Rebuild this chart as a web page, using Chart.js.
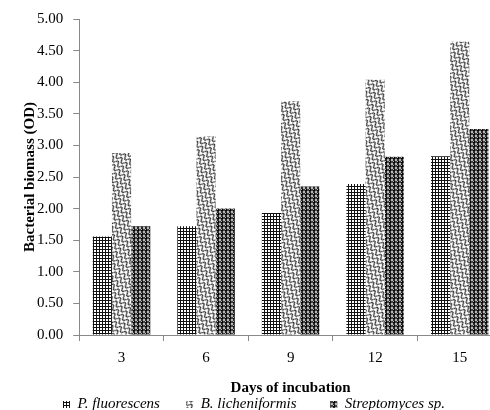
<!DOCTYPE html>
<html>
<head>
<meta charset="utf-8">
<script src="https://cdn.jsdelivr.net/npm/chart.js@4.4.1/dist/chart.umd.min.js"></script>
<style>
    html, body { margin: 0; padding: 0; background: #fff; overflow: hidden; }
    #wrap { width: 502px; height: 410px; }
</style>
</head>
<body>
<div id="wrap"><canvas id="chartCanvas" width="502" height="410"></canvas></div>
<script>
// Chart data
const days = ['3', '6', '9', '12', '15'];
const fluorescens = [1.56, 1.72, 1.93, 2.39, 2.83];
const licheniformis = [2.88, 3.14, 3.70, 4.04, 4.64];
const streptomyces = [1.72, 2.00, 2.35, 2.82, 3.26];
const seriesNames = ['P. fluorescens', 'B. licheniformis', 'Streptomyces sp.'];

// Build small pattern tiles
function makeTile(w, h, draw) {
    const c = document.createElement('canvas');
    c.width = w;
    c.height = h;
    const g = c.getContext('2d');
    g.fillStyle = '#fff';
    g.fillRect(0, 0, w, h);
    draw(g);
    return c;
}

const ctx = document.getElementById('chartCanvas').getContext('2d');

// grid hatch
const gridTile = makeTile(3, 3, g => {
    g.fillStyle = '#111';
    g.fillRect(0, 0, 3, 1);
    g.fillRect(0, 0, 1, 3);
});
const gridPattern = ctx.createPattern(gridTile, 'repeat');

// wavy hatch, rotated
const waveTile = makeTile(7, 5, g => {
    g.strokeStyle = '#222';
    g.lineWidth = 1.2;
    g.beginPath();
    g.moveTo(0, 2.5);
    g.bezierCurveTo(1.75, -0.8, 1.75, -0.8, 3.5, 2.5);
    g.bezierCurveTo(5.25, 5.8, 5.25, 5.8, 7, 2.5);
    g.stroke();
});
const wavePattern = ctx.createPattern(waveTile, 'repeat');
wavePattern.setTransform(new DOMMatrix().rotate(45));

// dotted hatch
const dotTile = makeTile(4, 4, g => {
    g.fillStyle = '#000';
    g.beginPath();
    g.arc(2, 2, 1.9, 0, Math.PI * 2);
    g.fill();
    g.fillStyle = '#bbb';
    g.fillRect(1, 1, 1, 1);
});
const dotPattern = ctx.createPattern(dotTile, 'repeat');

const serif = "'Liberation Serif', 'Times New Roman', serif";
const gap = n => '\u00a0'.repeat(n);

new Chart(ctx, {
    type: 'bar',
    data: {
        labels: days,
        datasets: [
            { label: seriesNames[0], data: fluorescens, backgroundColor: gridPattern },
            { label: seriesNames[1], data: licheniformis, backgroundColor: wavePattern },
            { label: seriesNames[2], data: streptomyces, backgroundColor: dotPattern }
        ]
    },
    options: {
        responsive: false,
        animation: false,
        layout: { padding: { left: 21, right: 0, top: 17, bottom: -12 } },
        datasets: {
            bar: { barPercentage: 1, categoryPercentage: 0.68, borderWidth: 0 }
        },
        scales: {
            x: {
                grid: { drawOnChartArea: false, tickLength: 6, color: '#888' },
                border: { color: '#888' },
                ticks: { color: '#000', font: { family: serif, size: 15 }, padding: 8 },
                title: {
                    display: true,
                    text: 'Days of incubation',
                    color: '#000',
                    font: { family: serif, size: 15, weight: 'bold' },
                    padding: { top: 4, bottom: 0 }
                }
            },
            y: {
                min: 0,
                max: 5,
                grid: { drawOnChartArea: false, tickLength: 6, color: '#888' },
                border: { color: '#888' },
                ticks: {
                    stepSize: 0.5,
                    color: '#000',
                    font: { family: serif, size: 15 },
                    padding: 10,
                    callback: v => v.toFixed(2)
                },
                title: {
                    display: true,
                    text: 'Bacterial biomass (OD)',
                    color: '#000',
                    font: { family: serif, size: 15, weight: 'bold' },
                    padding: { top: 0, bottom: -12 }
                }
            }
        },
        plugins: {
            legend: {
                position: 'bottom',
                labels: {
                    boxWidth: 7,
                    boxHeight: 7,
                    padding: 0,
                    color: '#000',
                    font: { family: serif, size: 15, style: 'italic' },
                    generateLabels: chart => {
                        const items = Chart.defaults.plugins.legend.labels.generateLabels(chart);
                        const extra = [7, 9, 4];
                        items.forEach((it, i) => {
                            it.lineWidth = 0;
                            it.text = it.text + gap(extra[i]);
                        });
                        return items;
                    }
                }
            },
            tooltip: { enabled: false }
        }
    }
});
</script>
</body>
</html>
